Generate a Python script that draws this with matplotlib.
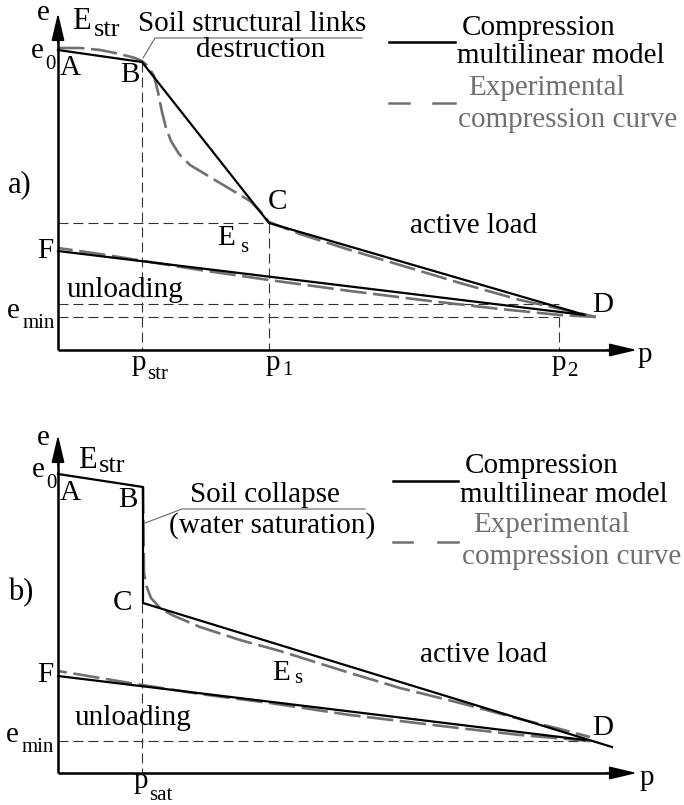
import matplotlib.pyplot as plt

plt.rcParams['font.family'] = ['Liberation Serif', 'DejaVu Serif']

# schematic values, p along the load axis, e along the void-ratio axis (origin at the axes corner)
# panel a)
p_model_a = [0, 84, 211, 527, 0]
e_model_a = [300, 288, 127, 35, 99]
p_exp_load_a = [0, 22, 42, 62, 77, 84, 90, 96, 100, 104, 108, 113, 121, 132, 152, 172, 192, 204, 211,
                 242, 292, 342, 402, 462, 512, 538]
e_exp_load_a = [302, 302, 300, 296, 292, 289, 284, 274, 258, 238, 222, 209, 196, 185, 173, 161, 149, 137, 128,
                116, 100, 85, 67, 50, 39, 33]
p_exp_unload_a = [538, 502, 442, 372, 292, 211, 142, 92, 42, 0]
e_exp_unload_a = [33, 35, 41, 49, 59, 70, 80, 88, 96, 102]
p_str, p_1, p_2 = 84, 211, 501
e_C_a, e_mid_a, e_min_a = 127, 46, 33

# panel b)
p_model_b = [0, 85, 85, 554]
e_model_b = [299, 286, 170, 26]
p_unload_b = [527, 0]
e_unload_b = [33, 97]
p_exp_load_b = [85, 86, 88, 93, 102, 114, 142, 182, 222, 292, 342, 402, 462, 502, 532]
e_exp_load_b = [286, 201, 188, 175, 165, 158, 146, 133, 122, 100, 85, 70, 54, 44, 36]
p_exp_unload_b = [532, 462, 392, 292, 212, 142, 84, 42, 0]
e_exp_unload_b = [32, 38, 46, 58, 70, 79, 88, 95, 102]
p_sat = 84
e_C_b, e_min_b = 170, 32

W, H = 684, 805
fig = plt.figure(figsize=(W / 100, H / 100), dpi=100)

GRAY = '#707070'
GUIDE = '#333333'


def panel(ylim):
    ax = fig.add_axes([0, 0, 1, 1])
    ax.set_xlim(-58, W - 58)
    ax.set_ylim(*ylim)
    ax.axis('off')
    ax.patch.set_alpha(0)
    return ax


def axes_arrows(ax, p_tip, e_tip):
    ax.plot([0, 0], [0, e_tip - 10], color='k', lw=1.8, solid_capstyle='butt')
    ax.plot([0, p_tip - 10], [0, 0], color='k', lw=1.8, solid_capstyle='butt')
    style = dict(arrowstyle='-|>,head_length=1.7,head_width=0.4', color='k', lw=1.2,
                 mutation_scale=10, shrinkA=0, shrinkB=0)
    ax.annotate('', xy=(0, e_tip), xytext=(0, e_tip - 30), arrowprops=style)
    ax.annotate('', xy=(p_tip, 0), xytext=(p_tip - 30, 0), arrowprops=style)


def guide(ax, xs, ys):
    ax.plot(xs, ys, color=GUIDE, lw=0.8, dashes=(9, 4.5))


def exp_line(ax, xs, ys):
    ax.plot(xs, ys, color=GRAY, lw=1.9, dashes=(10, 2.5), solid_joinstyle='round')


# ---------- panel a ----------
ax_a = panel((350 - H, 350))
guide(ax_a, [0, p_1], [e_C_a, e_C_a])
guide(ax_a, [p_str, p_str], [288, 0])
guide(ax_a, [p_1, p_1], [e_C_a, 0])
guide(ax_a, [0, p_2], [e_mid_a, e_mid_a])
guide(ax_a, [0, p_2], [e_min_a, e_min_a])
guide(ax_a, [p_2, p_2], [e_min_a, 0])
exp_line(ax_a, p_exp_load_a, e_exp_load_a)
exp_line(ax_a, p_exp_unload_a, e_exp_unload_a)
ax_a.plot(p_model_a, e_model_a, color='k', lw=1.6)
axes_arrows(ax_a, 579, 337)
ax_a.plot([85, 97, 304], [292, 312, 312], color='#666666', lw=0.8)
ax_a.plot([331, 397], [308, 308], color='k', lw=1.8)
ax_a.plot([331, 351], [247, 247], color=GRAY, lw=1.8)
ax_a.plot([375, 397], [247, 247], color=GRAY, lw=1.8)

# ---------- panel b ----------
ax_b = panel((773 - H, 773))
guide(ax_b, [0, 532], [e_min_b, e_min_b])
guide(ax_b, [p_sat, p_sat], [e_C_b, 0])
exp_line(ax_b, p_exp_load_b, e_exp_load_b)
exp_line(ax_b, p_exp_unload_b, e_exp_unload_b)
ax_b.plot(p_model_b, e_model_b, color='k', lw=1.6)
ax_b.plot(p_unload_b, e_unload_b, color='k', lw=1.6)
axes_arrows(ax_b, 579, 338)
ax_b.plot([87, 124, 307], [250, 264, 264], color='#666666', lw=0.8)
ax_b.plot([335, 400], [292, 292], color='k', lw=1.8)
ax_b.plot([335, 354], [231, 231], color=GRAY, lw=1.8)
ax_b.plot([380, 400], [231, 231], color=GRAY, lw=1.8)

# ---------- text layer (pixel positions) ----------
lay = fig.add_axes([0, 0, 1, 1])
lay.set_xlim(0, W)
lay.set_ylim(H, 0)
lay.axis('off')
lay.patch.set_alpha(0)

FS = 21
SUB = 15


def t(x, y, s, size=FS, color='k', ha='left'):
    lay.text(x, y, s, fontsize=size, color=color, ha=ha, va='baseline')


# panel a labels
t(37, 20, 'e')
t(72, 29, 'E', size=22)
t(94, 36, 'str', size=19)
t(31, 58, 'e')
t(45, 69, '0', size=SUB)
t(60, 75, 'A')
t(120, 82, 'B')
t(252, 31, 'Soil structural links', ha='center')
t(261, 57, 'destruction', ha='center')
t(8, 192, 'a)', size=22)
t(268, 209, 'C')
t(217, 245, 'E')
t(240, 252, 's', size=SUB)
t(37, 258, 'F')
t(67, 297, 'unloading')
t(7, 318, 'e')
t(23, 328, 'min', size=SUB)
t(132, 370, 'p')
t(147, 379, 'str', size=SUB)
t(266, 370, 'p')
t(282, 375, '1', size=SUB)
t(552, 370, 'p')
t(567, 376, '2', size=SUB)
t(410, 233, 'active load')
t(592, 312, 'D')
t(638, 362, 'p')
t(462, 35, 'Compression')
t(457, 63, 'multilinear model')
t(468, 95, 'Experimental', color=GRAY)
t(458, 127, 'compression curve', color=GRAY)

# panel b labels
t(37, 445, 'e')
t(78, 468, 'E', size=22)
t(99, 472, 'str', size=19)
t(32, 477, 'e')
t(46, 488, '0', size=SUB)
t(60, 500, 'A')
t(118, 507, 'B')
t(265, 502, 'Soil collapse', ha='center')
t(272, 533, '(water saturation)', ha='center')
t(8, 600, 'b)', size=22)
t(113, 610, 'C')
t(272, 680, 'E')
t(294, 683, 's', size=SUB)
t(37, 682, 'F')
t(75, 725, 'unloading')
t(6, 742, 'e')
t(22, 752, 'min', size=SUB)
t(134, 788, 'p')
t(149, 800, 'sat', size=SUB)
t(420, 662, 'active load')
t(592, 735, 'D')
t(640, 785, 'p')
t(465, 473, 'Compression')
t(460, 502, 'multilinear model')
t(473, 532, 'Experimental', color=GRAY)
t(462, 564, 'compression curve', color=GRAY)

fig.savefig('out.png', dpi=100)
